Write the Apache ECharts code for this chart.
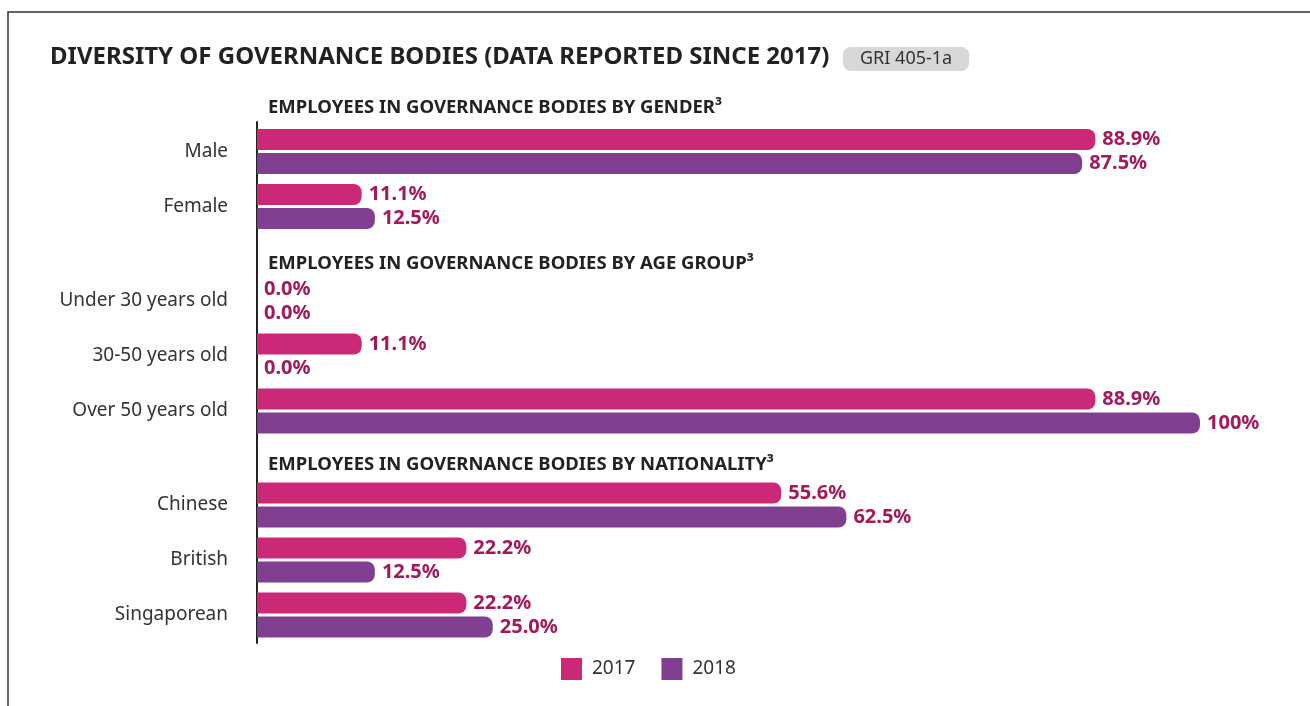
<!DOCTYPE html>
<html>
<head>
<meta charset="utf-8">
<style>
  html, body { margin: 0; padding: 0; background: #fff; }
  #chart { width: 1310px; height: 706px; }
</style>
<script src="https://cdn.jsdelivr.net/npm/echarts@6/dist/echarts.min.js"></script>
</head>
<body>
<div id="chart"></div>
<script>
const genderCats = ['Male', 'Female']
const gender2017 = [88.9, 11.1]
const gender2018 = [87.5, 12.5]

const ageCats = ['Under 30 years old', '30-50 years old', 'Over 50 years old']
const age2017 = [0, 11.1, 88.9]
const age2018 = [0, 0, 100]

const natCats = ['Chinese', 'British', 'Singaporean']
const nat2017 = [55.6, 22.2, 22.2]
const nat2018 = [62.5, 12.5, 25.0]

const years = ['2017', '2018']
const colors = { '2017': '#cb2878', '2018': '#803f91' }

const font = '"Noto Sans", sans-serif'
const myChart = echarts.init(document.getElementById('chart'), null, { renderer: 'canvas' })

const fmt = (p) => (p.value === 100 ? '100%' : p.value.toFixed(1) + '%')

const makeSeries = (name, data, idx) => ({
	name: name,
	type: 'bar',
	xAxisIndex: idx,
	yAxisIndex: idx,
	data: data,
	barWidth: 21,
	barGap: '14%',
	itemStyle: { color: colors[name], borderRadius: [0, 8, 8, 0] },
	label: {
		show: true,
		position: 'right',
		distance: 7,
		formatter: fmt,
		color: '#a3195b',
		fontWeight: 'bold',
		fontSize: 20,
		fontFamily: font,
	},
})

const catAxis = (cats, idx) => ({
	type: 'category',
	gridIndex: idx,
	data: cats,
	inverse: true,
	axisLine: { show: false },
	axisTick: { show: false },
	axisLabel: { color: '#333', fontSize: 19, fontFamily: font, margin: 29 },
})

const valAxis = (idx) => ({ type: 'value', gridIndex: idx, min: 0, max: 100, show: false })

// section headers sit in the gaps between the three grids
const header = (text, top) => ({
	text: text,
	left: 263,
	top: top,
	textStyle: { fontFamily: font, fontWeight: 'bold', fontSize: 18.5, color: '#222' },
})

let option = {
	backgroundColor: '#fff',
	title: [
		{
			text: 'DIVERSITY OF GOVERNANCE BODIES (DATA REPORTED SINCE 2017)',
			left: 45,
			top: 40,
			textStyle: { fontFamily: font, fontWeight: 'bold', fontSize: 24, color: '#222' },
		},
		{
			text: 'GRI 405-1a',
			left: 843,
			top: 47,
			padding: [1, 17, 1, 17],
			backgroundColor: '#d8d8d8',
			borderRadius: 8,
			textStyle: { fontFamily: font, fontWeight: 'normal', fontSize: 18, color: '#333', lineHeight: 22 },
		},
		header('EMPLOYEES IN GOVERNANCE BODIES BY GENDER³', 93),
		header('EMPLOYEES IN GOVERNANCE BODIES BY AGE GROUP³', 249),
		header('EMPLOYEES IN GOVERNANCE BODIES BY NATIONALITY³', 450),
	],
	legend: {
		data: years,
		left: 556,
		top: 653,
		icon: 'rect',
		itemWidth: 21,
		itemHeight: 22,
		itemGap: 26,
		textStyle: { color: '#333', fontSize: 19, fontFamily: font, padding: [0, 0, 0, 5] },
	},
	grid: [
		{ left: 257, right: 110, top: 124, height: 110 },
		{ left: 257, right: 110, top: 273.5, height: 165 },
		{ left: 257, right: 110, top: 477.5, height: 165 },
		{ left: 257, right: 110, top: 122, height: 521 },
	],
	xAxis: [valAxis(0), valAxis(1), valAxis(2), { type: 'value', gridIndex: 3, show: false }],
	yAxis: [
		catAxis(genderCats, 0),
		catAxis(ageCats, 1),
		catAxis(natCats, 2),
		{
			type: 'value',
			gridIndex: 3,
			min: 0,
			max: 1,
			axisLine: { show: true, lineStyle: { color: '#222', width: 2 } },
			axisTick: { show: false },
			axisLabel: { show: false },
			splitLine: { show: false },
		},
	],
	series: [
		makeSeries('2017', gender2017, 0),
		makeSeries('2018', gender2018, 0),
		makeSeries('2017', age2017, 1),
		makeSeries('2018', age2018, 1),
		makeSeries('2017', nat2017, 2),
		makeSeries('2018', nat2018, 2),
	],
	graphic: [
		{
			type: 'polyline',
			shape: { points: [[8, 706], [8, 12], [1310, 12]] },
			style: { stroke: '#333', lineWidth: 1.5, fill: null },
			silent: true,
		},
	],
}
myChart.setOption(option)

window.addEventListener('resize', () => {
	myChart.resize()
})
</script>
</body>
</html>
